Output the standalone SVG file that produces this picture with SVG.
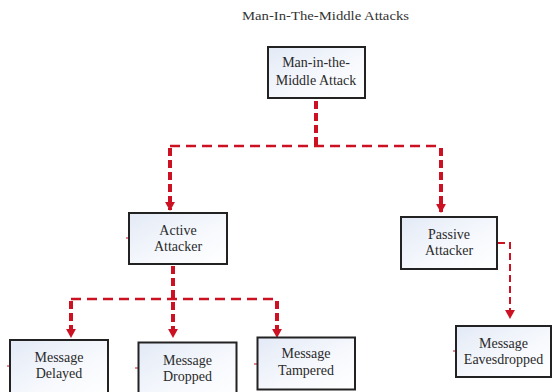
<svg xmlns="http://www.w3.org/2000/svg" width="552" height="392" viewBox="0 0 552 392">
<defs>
<linearGradient id="bg" x1="0" y1="0" x2="1" y2="1">
<stop offset="0" stop-color="#e3eaf6"/>
<stop offset="0.6" stop-color="#f7f9fd"/>
<stop offset="1" stop-color="#ffffff"/>
</linearGradient>
<marker id="ah" viewBox="0 0 10 10" refX="9" refY="5" markerWidth="9" markerHeight="10" markerUnits="userSpaceOnUse" orient="auto" preserveAspectRatio="none">
<path d="M0,0 L10,5 L0,10 Z" fill="#cc1122"/>
</marker>
</defs>
<style>
.box{fill:url(#bg);stroke:#222;stroke-width:2}
.lbl{font-family:"Liberation Serif","Times New Roman",serif;font-size:14px;fill:#2a2a2a;text-anchor:middle}
.title{font-family:"Liberation Serif","Times New Roman",serif;font-size:13px;fill:#333}
.thick{stroke:#cc1122;stroke-width:4;stroke-dasharray:8 4;fill:none}
.thin{stroke:#cc1122;stroke-width:2.5;stroke-dasharray:10 6;fill:none}
.fine{stroke:#cc1122;stroke-width:2;stroke-dasharray:7 4;fill:none}
.tick{stroke:#cc1122;stroke-width:1.2}
</style>
<rect width="552" height="392" fill="#ffffff"/>
<text class="title" x="242" y="20" textLength="167" lengthAdjust="spacingAndGlyphs">Man-In-The-Middle Attacks</text>

<g id="connectors">
<path class="thick" d="M316,101 V145"/>
<path class="thin" d="M170,146 H441"/>
<path class="thick" d="M170,148 V210" marker-end="url(#ah)"/>
<path class="thick" d="M441,148 V212" marker-end="url(#ah)"/>
<path class="thick" d="M173,266 V337" marker-end="url(#ah)"/>
<path class="thin" d="M71,299 H277"/>
<path class="thick" d="M71,301 V337" marker-end="url(#ah)"/>
<path class="thick" d="M277,301 V337" marker-end="url(#ah)"/>
<path class="fine" d="M498,243 H510 V318" marker-end="url(#ah)"/>
<path class="tick" d="M126,238 H129 M7,366 H10 M135,368 H138 M254,364 H257 M453,351 H456"/>
</g>

<g id="n-mitm">
<rect class="box" x="268" y="47" width="97" height="51"/>
<text class="lbl" x="316" y="67">Man-in-the-</text>
<text class="lbl" x="316" y="85">Middle Attack</text>
</g>
<g id="n-active">
<rect class="box" x="129" y="213" width="98" height="51"/>
<text class="lbl" x="178" y="235">Active</text>
<text class="lbl" x="178" y="251">Attacker</text>
</g>
<g id="n-passive">
<rect class="box" x="401" y="217" width="96" height="52"/>
<text class="lbl" x="449" y="239">Passive</text>
<text class="lbl" x="449" y="255">Attacker</text>
</g>
<g id="n-delayed">
<rect class="box" x="10" y="340" width="98" height="56"/>
<text class="lbl" x="59" y="362">Message</text>
<text class="lbl" x="59" y="378">Delayed</text>
</g>
<g id="n-dropped">
<rect class="box" x="138.5" y="342.5" width="98" height="56"/>
<text class="lbl" x="187.5" y="365">Message</text>
<text class="lbl" x="187.5" y="381">Dropped</text>
</g>
<g id="n-tampered">
<rect class="box" x="257.5" y="337.5" width="97.5" height="52"/>
<text class="lbl" x="306" y="358">Message</text>
<text class="lbl" x="306" y="375">Tampered</text>
</g>
<g id="n-eaves">
<rect class="box" x="456" y="326" width="95" height="51"/>
<text class="lbl" x="503.5" y="348">Message</text>
<text class="lbl" x="503.5" y="364">Eavesdropped</text>
</g>
</svg>
